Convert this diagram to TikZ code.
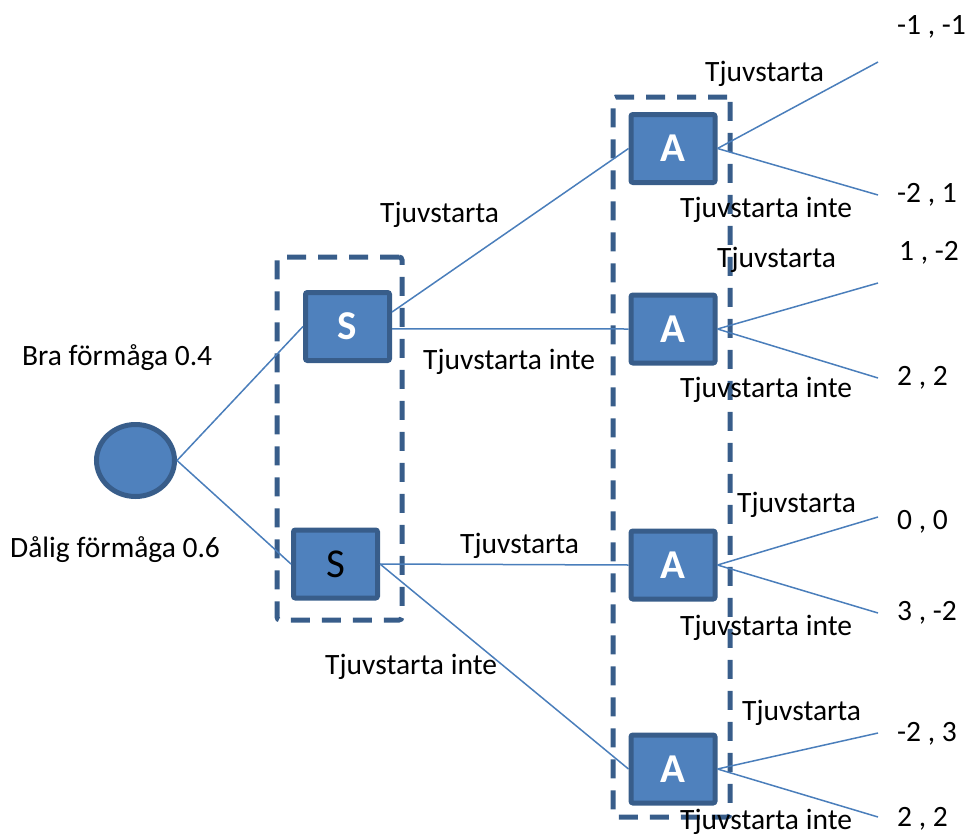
\documentclass[tikz,border=0pt]{standalone}
\usepackage{fontspec}
\setmainfont{Carlito}
\usetikzlibrary{positioning,shapes.geometric}
\definecolor{spelfyll}{RGB}{79,129,189}
\definecolor{spelkant}{RGB}{56,93,138}
\definecolor{spellinje}{RGB}{74,126,187}

\begin{document}
\begin{tikzpicture}[x=1pt, y=-1pt,
    chance/.style={ellipse, draw=spelkant, fill=spelfyll, line width=5pt,
                   minimum width=78pt, minimum height=72pt, inner sep=0pt},
    mover/.style={rectangle, draw=spelkant, fill=spelfyll, line width=5pt,
                  rounded corners=2pt, minimum width=84pt, minimum height=68pt,
                  inner sep=0pt, text=white,
                  font=\fontsize{41}{49}\selectfont\bfseries},
    infoset/.style={rectangle, draw=spelkant, line width=5pt,
                    dash pattern=on 19pt off 12pt, rounded corners=3pt,
                    inner sep=0pt},
    gren/.style={draw=spellinje, line width=1.5pt},
    lbl/.style={anchor=west, inner sep=0pt, font=\fontsize{29.5}{35}\selectfont},
  ]
  \useasboundingbox (0,0) rectangle (967,835);

  % Informationsmangder
  \node[infoset, minimum width=125pt, minimum height=363pt] (M1) at (339.5,438.5) {};
  \node[infoset, minimum width=117pt, minimum height=720pt] (M2) at (671.5,457) {};

  % Natur
  \node[chance] (N) at (135.5,460.5) {};

  % Spelare S
  \node[mover] (S1) at (347.5,326.5) {S};
  \node[mover, font=\fontsize{41}{49}\selectfont, text=black] (S2) at (335.5,564) {S};

  % Spelare A
  \foreach \i/\y in {1/148.5, 2/329, 3/565, 4/769}
    \node[mover] (A\i) at (673,\y) {A};

  % Grenar
  \draw[gren] (N.east) -- (S1.west);
  \draw[gren] (N.east) -- (S2.west);
  \draw[gren] (S1.18) -- (A1.west);
  \draw[gren] (S1.-3) -- (A2.west);
  \draw[gren] (S2.east) -- (A3.west);
  \draw[gren] (S2.east) -- (A4.west);
  \foreach \i/\yu/\yl in {1/62/195, 2/283/378, 3/517/613, 4/733/817} {
    \coordinate (u\i) at (878,\yu);
    \coordinate (l\i) at (878,\yl);
    \draw[gren] (A\i.east) -- (u\i);
    \draw[gren] (A\i.east) -- (l\i);
  }

  % Etiketter
  \node[lbl] (bra) at (22,358) {Bra förmåga 0.4};
  \node[lbl] (dalig) at (10,550) {Dålig förmåga 0.6};
  \node[lbl] (s1t) at (380,215) {Tjuvstarta};
  \node[lbl] (s1i) at (423,362) {Tjuvstarta inte};
  \node[lbl] (s2t) at (460,546) {Tjuvstarta};
  \node[lbl] (s2i) at (325,667) {Tjuvstarta inte};
  \node[lbl] (a1t) at (705,74) {Tjuvstarta};
  \node[lbl] (a1i) at (680,210) {Tjuvstarta inte};
  \node[lbl] (a2t) at (717,260) {Tjuvstarta};
  \node[lbl] (a2i) at (680,390) {Tjuvstarta inte};
  \node[lbl] (a3t) at (737,505) {Tjuvstarta};
  \node[lbl] (a3i) at (680,628) {Tjuvstarta inte};
  \node[lbl] (a4t) at (742,713) {Tjuvstarta};
  \node[lbl] (a4i) at (680,822) {Tjuvstarta inte};

  % Utfall
  \node[lbl] (p1) at (897,27) {-1 , -1};
  \node[lbl] (p2) at (897,195) {-2 , 1};
  \node[lbl] (p3) at (899,253) {1 , -2};
  \node[lbl] (p4) at (897,378) {2 , 2};
  \node[lbl] (p5) at (897,522) {0 , 0};
  \node[lbl] (p6) at (897,613) {3 , -2};
  \node[lbl] (p7) at (897,734) {-2 , 3};
  \node[lbl] (p8) at (897,819) {2 , 2};
\end{tikzpicture}
\end{document}
